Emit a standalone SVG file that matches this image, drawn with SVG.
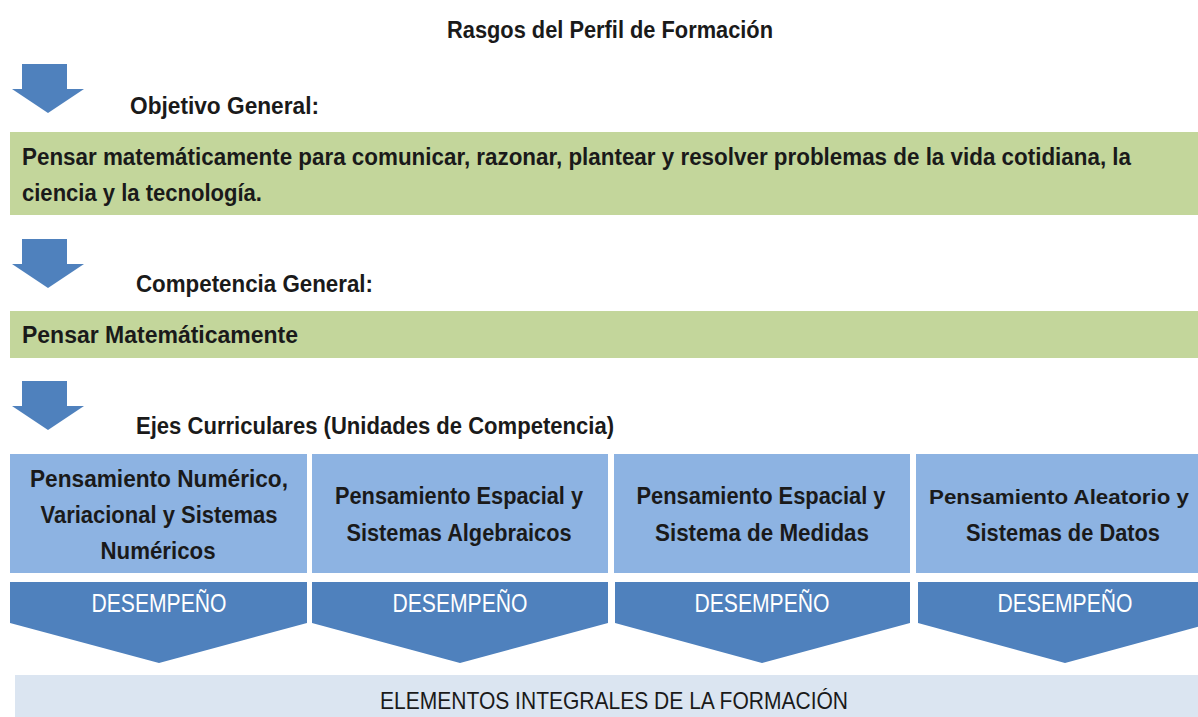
<svg xmlns="http://www.w3.org/2000/svg" width="1198" height="717" viewBox="0 0 1198 717">
<style>
text{font-family:"Liberation Sans",Arial,sans-serif;}
.b{font-weight:bold;fill:#1a1a1a;font-size:23px;}
.c{text-anchor:middle;}
.w{fill:#ffffff;font-size:25px;}
.d{fill:#1a1a1a;font-size:24px;}
.arr{fill:#4f81bd;}
.green{fill:#c3d69b;}
.lb{fill:#8db3e2;}
.db{fill:#4f81bd;}
</style>
<defs>
<path id="darr" d="M10,0 H55 V25 H72 L36,49 L0,25 H10 Z"/>
</defs>
<rect width="1198" height="717" fill="#ffffff"/>
<g id="title"><text class="b" x="447" y="38" textLength="326" lengthAdjust="spacingAndGlyphs">Rasgos del Perfil de Formación</text></g>
<g id="connectors">
<use href="#darr" class="arr" x="12" y="64"/>
<use href="#darr" class="arr" x="12" y="239"/>
<use href="#darr" class="arr" x="12" y="381"/>
</g>
<g id="objetivo-label"><text class="b" x="130" y="114" textLength="189" lengthAdjust="spacingAndGlyphs">Objetivo General:</text></g>
<g id="objetivo">
<rect class="green" x="10" y="132" width="1188" height="83"/>
<text class="b" x="22" y="165" textLength="1109" lengthAdjust="spacingAndGlyphs">Pensar matemáticamente para comunicar, razonar, plantear y resolver problemas de la vida cotidiana, la</text>
<text class="b" x="22" y="201" textLength="240" lengthAdjust="spacingAndGlyphs">ciencia y la tecnología.</text>
</g>
<g id="competencia-label"><text class="b" x="136" y="292" textLength="237" lengthAdjust="spacingAndGlyphs">Competencia General:</text></g>
<g id="competencia">
<rect class="green" x="10" y="311" width="1188" height="47"/>
<text class="b" x="22" y="343" textLength="276" lengthAdjust="spacingAndGlyphs">Pensar Matemáticamente</text>
</g>
<g id="ejes-label"><text class="b" x="136" y="434" textLength="478" lengthAdjust="spacingAndGlyphs">Ejes Curriculares (Unidades de Competencia)</text></g>
<g id="eje1">
<rect class="lb" x="10" y="454" width="297" height="119"/>
<text class="b c" x="159" y="487" textLength="258" lengthAdjust="spacingAndGlyphs">Pensamiento Numérico,</text>
<text class="b c" x="159" y="523" textLength="237" lengthAdjust="spacingAndGlyphs">Variacional y Sistemas</text>
<text class="b c" x="158" y="559" textLength="115" lengthAdjust="spacingAndGlyphs">Numéricos</text>
</g>
<g id="eje2">
<rect class="lb" x="312" y="454" width="296" height="119"/>
<text class="b c" x="459" y="504" textLength="248" lengthAdjust="spacingAndGlyphs">Pensamiento Espacial y</text>
<text class="b c" x="459" y="541" textLength="225" lengthAdjust="spacingAndGlyphs">Sistemas Algebraicos</text>
</g>
<g id="eje3">
<rect class="lb" x="614" y="454" width="296" height="119"/>
<text class="b c" x="761" y="504" textLength="249" lengthAdjust="spacingAndGlyphs">Pensamiento Espacial y</text>
<text class="b c" x="762" y="541" textLength="214" lengthAdjust="spacingAndGlyphs">Sistema de Medidas</text>
</g>
<g id="eje4">
<rect class="lb" x="916" y="454" width="282" height="119"/>
<text class="b c" x="1059" y="504" font-size="21" style="font-size:21px" textLength="260" lengthAdjust="spacingAndGlyphs">Pensamiento Aleatorio y</text>
<text class="b c" x="1063" y="541" textLength="194" lengthAdjust="spacingAndGlyphs">Sistemas de Datos</text>
</g>
<g id="desempeno1">
<path class="db" d="M10,582 H307 V623 L159,663 L10,623 Z"/>
<text class="w c" x="159" y="612" textLength="135" lengthAdjust="spacingAndGlyphs">DESEMPEÑO</text>
</g>
<g id="desempeno2">
<path class="db" d="M312,582 H608 V623 L460,663 L312,623 Z"/>
<text class="w c" x="460" y="612" textLength="135" lengthAdjust="spacingAndGlyphs">DESEMPEÑO</text>
</g>
<g id="desempeno3">
<path class="db" d="M615,582 H910 V623 L762,663 L615,623 Z"/>
<text class="w c" x="762" y="612" textLength="135" lengthAdjust="spacingAndGlyphs">DESEMPEÑO</text>
</g>
<g id="desempeno4">
<path class="db" d="M918,582 H1198 V626.8 L1065,663 L918,623 Z"/>
<text class="w c" x="1065" y="612" textLength="135" lengthAdjust="spacingAndGlyphs">DESEMPEÑO</text>
</g>
<g id="elementos">
<rect x="15" y="675" width="1183" height="42" fill="#dbe5f1"/>
<text class="d c" x="614" y="709" textLength="468" lengthAdjust="spacingAndGlyphs">ELEMENTOS INTEGRALES DE LA FORMACIÓN</text>
</g>
</svg>
